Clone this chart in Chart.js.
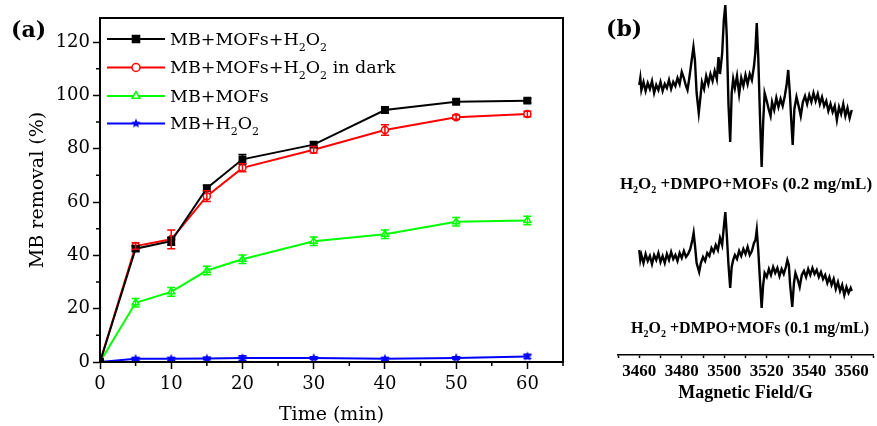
<!DOCTYPE html>
<html>
<head>
<meta charset="utf-8">
<script src="https://cdn.jsdelivr.net/npm/chart.js@4.4.1/dist/chart.umd.min.js"></script>
<style>
  body { margin: 0; background: #fff; width: 877px; height: 426px; position: relative; overflow: hidden; }
  #wrapA { position: absolute; left: 0; top: 0; width: 600px; height: 426px; }
  #wrapB { position: absolute; left: 600px; top: 0; width: 277px; height: 426px; }
  .panel { position: absolute; font-family: "DejaVu Serif", serif; font-weight: bold; font-size: 22px; line-height: 22px; color: #000; }
  .sample { position: absolute; font-family: "Liberation Serif", serif; font-weight: bold; font-size: 16px; line-height: 16px; color: #000; white-space: nowrap; transform: translateX(-50%); }
  .sample sub { font-size: 10px; vertical-align: -4px; }
</style>
</head>
<body>
<div id="wrapA"><canvas id="chartA" width="600" height="426"></canvas></div>
<div id="wrapB"><canvas id="chartB" width="277" height="426"></canvas></div>
<div class="panel" style="left:11px; top:18px;">(a)</div>
<div class="panel" style="left:606px; top:17px;">(b)</div>
<div class="sample" style="left:746px; top:176px; font-size:17px;">H<sub>2</sub>O<sub>2</sub> +DMPO+MOFs (0.2 mg/mL)</div>
<div class="sample" style="left:750px; top:320px;">H<sub>2</sub>O<sub>2</sub> +DMPO+MOFs (0.1 mg/mL)</div>
<script>
// (a) degradation data
const timeMin = [0, 5, 10, 15, 20, 30, 40, 50, 60];
const withH2O2 = [0, 42.5, 45.3, 65.2, 76, 81.5, 94.5, 97.6, 98];
const withH2O2Err = [0, 1, 1.5, 1, 1.8, 1, 1, 0.8, 0.8];
const inDark = [0, 43.5, 46, 62.2, 72.8, 79.6, 87, 91.8, 93];
const inDarkErr = [0, 1.2, 3.5, 2, 1.5, 1.2, 2, 0.8, 1];
const mofsOnly = [0, 22.2, 26.3, 34.3, 38.5, 45.3, 47.9, 52.6, 53.1];
const mofsOnlyErr = [0, 1.6, 1.6, 1.6, 1.6, 1.6, 1.6, 1.6, 1.6];
const h2o2Only = [0, 1.2, 1.2, 1.3, 1.5, 1.5, 1.2, 1.5, 2.1];
const h2o2OnlyErr = [0, 0.5, 0.5, 0.5, 0.8, 0.5, 0.5, 0.5, 0.8];
const seriesNames = ['MB+MOFs+H_2O_2', 'MB+MOFs+H_2O_2 in dark', 'MB+MOFs', 'MB+H_2O_2'];
const xMinor = [5, 15, 25, 35, 45, 55, 65];
const yMinor = [10, 30, 50, 70, 90, 110];

// (b) EPR spectra, field in G
const fieldTop = [3460, 3460.5, 3461, 3462, 3463, 3464, 3465, 3466, 3467, 3468, 3469, 3470, 3471, 3472, 3473, 3474, 3475, 3476, 3477, 3478, 3479, 3480, 3481, 3482, 3482.7, 3483.5, 3484.5, 3485.5, 3486.2, 3487, 3488, 3488.8, 3489.5, 3490.5, 3491.5, 3492.5, 3493.5, 3494.5, 3495.5, 3496.5, 3497.3, 3498, 3499, 3499.8, 3500.5, 3501.2, 3502, 3502.8, 3503.5, 3504.2, 3505, 3506, 3507, 3508, 3509, 3510, 3511, 3512, 3513, 3514, 3514.6, 3515.3, 3516, 3516.8, 3517.6, 3518.3, 3519, 3520, 3521, 3521.8, 3522.5, 3523.5, 3524.5, 3525.5, 3526.5, 3527.5, 3528.5, 3529.4, 3530.1, 3530.8, 3531.5, 3532.2, 3533, 3534, 3535, 3536, 3537, 3538, 3539, 3540, 3541, 3542, 3543, 3544, 3545, 3546, 3547, 3548, 3549, 3550, 3551, 3552, 3553, 3554, 3555, 3556, 3557, 3558, 3559, 3560];
const ampTop = [270, 277, 265, 273, 264, 272, 266, 274, 262, 270, 265, 273, 264, 271, 267, 275, 266, 273, 269, 277, 271, 283, 277, 269, 265, 276, 292, 308, 295, 262, 242, 258, 273, 266, 279, 271, 281, 274, 284, 276, 298, 281, 301, 335, 350, 318, 250, 213, 262, 276, 267, 279, 261, 277, 269, 280, 271, 281, 275, 289, 302, 332, 298, 240, 188, 232, 262, 254, 245, 239, 253, 245, 257, 248, 256, 249, 259, 271, 285, 264, 236, 210, 246, 258, 249, 239, 253, 259, 251, 260, 253, 262, 254, 261, 251, 258, 249, 254, 244, 251, 243, 249, 235, 248, 241, 251, 239, 247, 237, 245];
const fieldBottom = [3460, 3460.5, 3461, 3462, 3463, 3464, 3465, 3466, 3467, 3468, 3469, 3470, 3471, 3472, 3473, 3474, 3475, 3476, 3477, 3478, 3479, 3480, 3481, 3482, 3483, 3484, 3485, 3485.6, 3486.3, 3487, 3488.2, 3489, 3490, 3491, 3492, 3493, 3494, 3495, 3496, 3497, 3498, 3499, 3499.8, 3500.5, 3501.2, 3502, 3502.8, 3503.5, 3504.2, 3505, 3506, 3507, 3508, 3509, 3510, 3511, 3512, 3513, 3514, 3514.7, 3515.3, 3516, 3516.8, 3517.6, 3518.3, 3519, 3520, 3521, 3522, 3523, 3524, 3525, 3526, 3527, 3528, 3529, 3529.7, 3530.4, 3531, 3532, 3532.8, 3533.5, 3534.5, 3535.5, 3536.5, 3537.5, 3538.5, 3539.5, 3540.5, 3541.5, 3542.5, 3543.5, 3544.5, 3545.5, 3546.5, 3547.5, 3548.5, 3549.5, 3550.5, 3551.5, 3552.5, 3553.5, 3554.5, 3555.5, 3556.5, 3557.5, 3558.5, 3559.5, 3560];
const ampBottom = [105, 95, 100, 92, 101, 94, 99, 91, 100, 95, 102, 93, 99, 92, 101, 95, 103, 96, 100, 94, 102, 97, 104, 98, 101, 106, 115, 122, 108, 92, 83, 92, 98, 94, 102, 99, 107, 103, 110, 105, 117, 110, 128, 143, 120, 90, 67, 88, 95, 100, 96, 104, 99, 106, 101, 108, 100, 104, 112, 115, 125, 105, 75, 47, 70, 82, 78, 86, 80, 88, 82, 87, 79, 86, 81, 88, 95, 90, 70, 48, 72, 82, 76, 68, 80, 84, 78, 86, 80, 87, 81, 85, 78, 83, 76, 80, 72, 78, 70, 76, 66, 73, 64, 70, 60, 68, 62, 67, 64];

const serif = '"DejaVu Serif", serif';
const boldSerif = '"Liberation Serif", serif';

// filled star used as point style for MB+H2O2
function makeStar(color, r) {
    const c = document.createElement('canvas');
    c.width = c.height = r * 2 + 2;
    const g = c.getContext('2d');
    g.fillStyle = color;
    g.beginPath();
    for (let i = 0; i < 10; i++) {
        const a = -Math.PI / 2 + i * Math.PI / 5;
        const rr = i % 2 === 0 ? r : r * 0.45;
        g.lineTo(r + 1 + rr * Math.cos(a), r + 1 + rr * Math.sin(a));
    }
    g.closePath();
    g.fill();
    return c;
}
const blueStar = makeStar('#0000ff', 5);

function mkSet(values, errs, color, style, fill, radius) {
    return {
        data: values,
        errors: errs,
        borderColor: color,
        backgroundColor: fill,
        borderWidth: 2,
        pointStyle: style,
        pointRadius: radius,
        pointBorderColor: color,
        pointBackgroundColor: fill,
        pointBorderWidth: 1.5,
        tension: 0
    };
}

// error bars, drawn through the scales
const errorBars = {
    id: 'errorBars',
    afterDatasetsDraw(chart) {
        const ctx = chart.ctx;
        const xs = chart.scales.x, ys = chart.scales.y;
        chart.data.datasets.forEach(ds => {
            if (!ds.errors) return;
            ctx.save();
            ctx.strokeStyle = ds.borderColor;
            ctx.lineWidth = 1.5;
            ds.data.forEach((v, i) => {
                const e = ds.errors[i];
                if (!e) return;
                const x = xs.getPixelForValue(chart.data.labels[i]);
                const y1 = ys.getPixelForValue(v - e), y2 = ys.getPixelForValue(v + e);
                ctx.beginPath();
                ctx.moveTo(x, y1); ctx.lineTo(x, y2);
                ctx.moveTo(x - 4, y1); ctx.lineTo(x + 4, y1);
                ctx.moveTo(x - 4, y2); ctx.lineTo(x + 4, y2);
                ctx.stroke();
            });
            ctx.restore();
        });
    }
};

// frame + minor ticks
const frameTicks = {
    id: 'frameTicks',
    afterDraw(chart) {
        const ctx = chart.ctx, a = chart.chartArea;
        ctx.save();
        ctx.strokeStyle = '#000';
        ctx.lineWidth = 2;
        ctx.strokeRect(a.left, a.top, a.right - a.left, a.bottom - a.top);
        ctx.lineWidth = 1.5;
        ctx.beginPath();
        xMinor.forEach(v => {
            const x = chart.scales.x.getPixelForValue(v);
            ctx.moveTo(x, a.bottom); ctx.lineTo(x, a.bottom + 4);
        });
        yMinor.forEach(v => {
            const y = chart.scales.y.getPixelForValue(v);
            ctx.moveTo(a.left, y); ctx.lineTo(a.left - 4, y);
        });
        ctx.stroke();
        ctx.restore();
    }
};

// legend inside the plot, with subscripts
function drawRich(ctx, text, x, y, size) {
    text.split(/(_\d)/).forEach(p => {
        if (!p) return;
        if (p[0] === '_') {
            ctx.font = Math.round(size * 0.62) + 'px ' + serif;
            ctx.fillText(p.slice(1), x, y + 6);
            x += ctx.measureText(p.slice(1)).width;
        } else {
            ctx.font = size + 'px ' + serif;
            ctx.fillText(p, x, y);
            x += ctx.measureText(p).width;
        }
    });
}
const innerLegend = {
    id: 'innerLegend',
    afterDraw(chart) {
        const ctx = chart.ctx;
        const rows = [39, 67.5, 96, 123.5];
        ctx.save();
        chart.data.datasets.forEach((ds, i) => {
            const y = rows[i];
            ctx.strokeStyle = ds.borderColor;
            ctx.lineWidth = 2;
            ctx.beginPath();
            ctx.moveTo(107, y); ctx.lineTo(165, y);
            ctx.stroke();
            ctx.fillStyle = ds.pointBackgroundColor;
            ctx.lineWidth = 1.5;
            Chart.helpers.drawPoint(ctx, { pointStyle: ds.pointStyle, radius: ds.pointRadius + 0.5, borderWidth: 1.5 }, 136, y);
            ctx.fillStyle = '#000';
            ctx.textBaseline = 'alphabetic';
            drawRich(ctx, seriesNames[i], 170, y + 5.5, 17.5);
        });
        ctx.restore();
    }
};

new Chart(document.getElementById('chartA'), {
    type: 'line',
    data: {
        labels: timeMin,
        datasets: [
            mkSet(withH2O2, withH2O2Err, '#000000', 'rect', '#000000', 4.5),
            mkSet(inDark, inDarkErr, '#ff0000', 'circle', '#ffffff', 3.5),
            mkSet(mofsOnly, mofsOnlyErr, '#00ff00', 'triangle', '#ffffff', 4),
            mkSet(h2o2Only, h2o2OnlyErr, '#0000ff', blueStar, '#0000ff', 5)
        ]
    },
    options: {
        responsive: false,
        animation: false,
        layout: { padding: { left: 0, right: 37, top: 18, bottom: 0 } },
        plugins: { legend: { display: false }, tooltip: { enabled: false } },
        scales: {
            x: {
                type: 'linear',
                min: 0, max: 65,
                afterFit: s => { s.height = 64; },
                ticks: { stepSize: 10, includeBounds: false, padding: 5, color: '#000', font: { family: serif, size: 18 }, maxRotation: 0 },
                grid: { display: true, drawOnChartArea: false, tickLength: 7, tickWidth: 1.5, color: '#000' },
                border: { display: true, color: '#000', width: 2 },
                title: { display: true, text: 'Time (min)', color: '#000', font: { family: serif, size: 19 }, padding: { top: 0, bottom: 0 } }
            },
            y: {
                min: 0, max: 129,
                afterFit: s => { s.width = 100; },
                ticks: { stepSize: 20, includeBounds: false, padding: 3, color: '#000', font: { family: serif, size: 18 } },
                grid: { display: true, drawOnChartArea: false, tickLength: 7, tickWidth: 1.5, color: '#000' },
                border: { display: true, color: '#000', width: 2 },
                title: { display: true, text: 'MB removal (%)', color: '#000', font: { family: serif, size: 19 }, padding: { top: 27, bottom: 0 } }
            }
        }
    },
    plugins: [errorBars, frameTicks, innerLegend]
});

const topPts = fieldTop.map((f, i) => ({ x: f, y: ampTop[i] }));
const bottomPts = fieldBottom.map((f, i) => ({ x: f, y: ampBottom[i] }));

new Chart(document.getElementById('chartB'), {
    type: 'line',
    data: {
        datasets: [
            { data: topPts, borderColor: '#000', borderWidth: 2.4, pointRadius: 0, tension: 0 },
            { data: bottomPts, borderColor: '#000', borderWidth: 2.4, pointRadius: 0, tension: 0 }
        ]
    },
    options: {
        responsive: false,
        animation: false,
        layout: { padding: { left: 18, right: 4, top: 0, bottom: 0 } },
        plugins: { legend: { display: false }, tooltip: { enabled: false } },
        scales: {
            x: {
                type: 'linear',
                min: 3450, max: 3570,
                afterFit: s => { s.height = 71; },
                ticks: {
                    stepSize: 10, padding: 3, color: '#000', maxRotation: 0, autoSkip: false,
                    font: { family: boldSerif, size: 17, weight: 'bold' },
                    callback: v => ((v - 3460) % 20 === 0 && v >= 3460 && v <= 3560) ? String(v) : ''
                },
                grid: { display: true, drawOnChartArea: false, tickLength: 3, tickWidth: 1.5, color: '#000' },
                border: { display: true, color: '#000', width: 1.5 },
                title: { display: true, text: 'Magnetic Field/G', color: '#000', font: { family: boldSerif, size: 18, weight: 'bold' }, padding: { top: 0, bottom: 22 } }
            },
            y: { display: false, min: 0, max: 355 }
        }
    }
});
</script>
</body>
</html>
